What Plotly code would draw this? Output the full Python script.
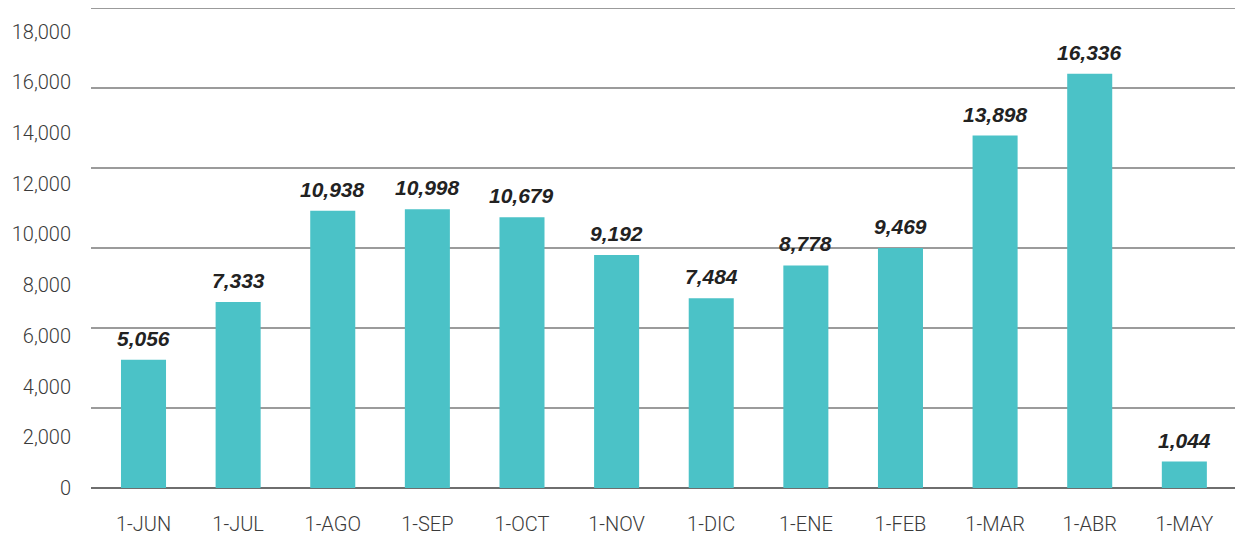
import plotly.graph_objects as go

categories = ["1-JUN", "1-JUL", "1-AGO", "1-SEP", "1-OCT", "1-NOV",
              "1-DIC", "1-ENE", "1-FEB", "1-MAR", "1-ABR", "1-MAY"]
values = [5056, 7333, 10938, 10998, 10679, 9192, 7484, 8778, 9469, 13898, 16336, 1044]
y_tick_values = [0, 2000, 4000, 6000, 8000, 10000, 12000, 14000, 16000, 18000]
y_tick_labels = ["0", "2,000", "4,000", "6,000", "8,000", "10,000",
                 "12,000", "14,000", "16,000", "18,000"]
value_labels = [f"{v:,}" for v in values]

BAR_COLOR = "#4BC2C7"
GRID_COLOR = "#9B9B9B"
BASE_COLOR = "#6E6E6E"
TEXT_COLOR = "#3A3A3A"
AXIS_FONT = dict(family="Roboto, Liberation Sans, Arial, sans-serif", size=20,
                 color=TEXT_COLOR, weight=300)

fig = go.Figure()
fig.add_trace(go.Bar(
    x=categories, y=values,
    marker=dict(color=BAR_COLOR, line=dict(width=0)),
    hoverinfo="x+y",
))

for c, v, t in zip(categories, values, value_labels):
    fig.add_annotation(
        x=c, y=v, text=f"<b><i>{t}</i></b>", showarrow=False,
        yanchor="bottom", yshift=8,
        font=dict(family="Liberation Sans, Arial, sans-serif", size=21, color="#222222"),
    )

# horizontal rules (six equal bands across the plot area)
for k in range(7):
    fig.add_shape(
        type="line", xref="paper", yref="paper", x0=0, x1=1, y0=k / 6, y1=k / 6,
        line=dict(color=BASE_COLOR if k == 0 else GRID_COLOR, width=2),
        layer="below",
    )

# the page body has an 8px margin, so the figure is sized/offset to compensate
fig.update_layout(
    width=1235, height=527,
    margin=dict(l=83, r=0, t=0, b=47),
    paper_bgcolor="white", plot_bgcolor="white",
    bargap=0.524,
    showlegend=False,
    font=AXIS_FONT,
    xaxis=dict(
        type="category", range=[-0.555, 11.62],
        showgrid=False, zeroline=False, showline=False, ticks="",
        ticklabelstandoff=22,
        tickfont=AXIS_FONT,
    ),
    yaxis=dict(
        range=[0, 18930],
        tickvals=y_tick_values, ticktext=y_tick_labels,
        showgrid=False, zeroline=False, showline=False, ticks="",
        ticklabelstandoff=19,
        tickfont=AXIS_FONT,
    ),
)

fig.write_html("out.html")
